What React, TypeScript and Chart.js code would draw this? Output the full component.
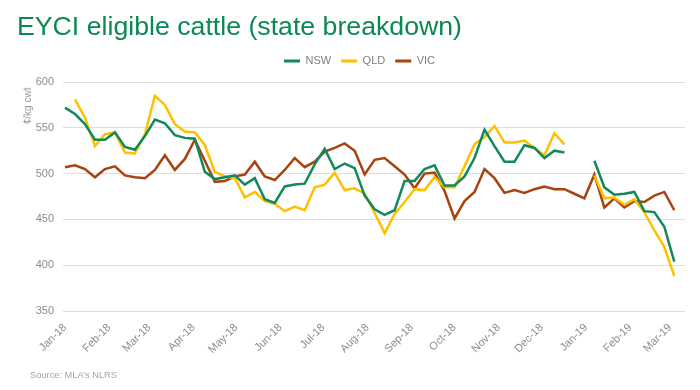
import React, { useEffect, useRef } from 'react';
import { Chart, registerables } from 'chart.js';

Chart.register(...registerables);

const TITLE = 'EYCI eligible cattle (state breakdown)';
const SOURCE = 'Source: MLA’s NLRS';
const Y_TITLE = '¢/kg cwt  ';
const LEGEND_NAMES = ['NSW', 'QLD', 'VIC'];

// weekly observations, first week starting 1 Jan 2018
const FIRST_WEEK = Date.UTC(2018, 0, 1);
const MONTH_TICKS = [
  'Jan-18', 'Feb-18', 'Mar-18', 'Apr-18', 'May-18', 'Jun-18', 'Jul-18', 'Aug-18',
  'Sep-18', 'Oct-18', 'Nov-18', 'Dec-18', 'Jan-19', 'Feb-19', 'Mar-19',
];

const NSW: (number | null)[] = [
  572, 565, 554, 537, 537, 545, 529, 526, 541, 559, 555, 542, 539, 538, 502, 494,
  496, 498, 488, 495, 472, 468, 486, 488, 489, 510, 527, 505, 511, 506, 476, 461,
  455, 460, 492, 492, 505, 509, 487, 487, 497, 517, 548, 530, 513, 513, 531, 528,
  517, 525, 523, null, null, 514, 485, 477, 478, 480, 459, 458, 442, 404,
];
const QLD: (number | null)[] = [
  null, 581, 561, 530, 543, 545, 523, 522, 543, 585, 575, 554, 546, 545, 531, 502,
  497, 495, 474, 480, 470, 467, 459, 464, 460, 485, 488, 501, 482, 484, 478, 457,
  435, 456, 469, 483, 482, 496, 485, 485, 508, 532, 540, 552, 534, 534, 536, 528,
  520, 544, 532, null, null, 498, 473, 474, 466, 472, 458, 438, 420, 388,
];
const VIC: (number | null)[] = [
  507, 509, 505, 496, 505, 508, 498, 496, 495, 504, 520, 504, 516, 537, 514, 491,
  492, 497, 499, 513, 497, 493, 504, 517, 507, 513, 524, 528, 533, 525, 499, 515,
  517, 508, 499, 484, 500, 501, 481, 451, 470, 480, 505, 495, 479, 482, 479, 483,
  486, 483, 483, 478, 473, 499, 463, 473, 463, 470, 469, 476, 480, 460,
];

const COLORS = ['#12895A', '#FFC000', '#A8420F'];
const TITLE_GREEN = '#0A8A52';
const FONT = "'Liberation Sans', Arial, Helvetica, sans-serif";

const MONTHS = ['Jan', 'Feb', 'Mar', 'Apr', 'May', 'Jun', 'Jul', 'Aug', 'Sep', 'Oct', 'Nov', 'Dec'];
const DAY = 86400000;
const tickDay = (label: string) => {
  const [m, y] = label.split('-');
  return (Date.UTC(2000 + Number(y), MONTHS.indexOf(m), 1) - FIRST_WEEK) / DAY;
};
const TICK_DAYS = MONTH_TICKS.map(tickDay);
const toPoints = (arr: (number | null)[]) => arr.map((v, i) => ({ x: i * 7, y: v }));

export default function App() {
  const ref = useRef<HTMLCanvasElement>(null);
  useEffect(() => {
    Chart.defaults.font.family = FONT;
    const series = [NSW, QLD, VIC];
    const chart = new Chart(ref.current as HTMLCanvasElement, {
      type: 'line',
      data: {
        datasets: series.map((s, k) => ({
          label: LEGEND_NAMES[k],
          data: toPoints(s) as any,
          borderColor: COLORS[k],
          backgroundColor: COLORS[k],
          borderWidth: 2.5,
          pointRadius: 0,
          tension: 0,
          spanGaps: false,
        })),
      },
      options: {
        animation: false,
        responsive: false,
        devicePixelRatio: 1,
        layout: { padding: { top: 45.5, left: 0, right: 15, bottom: 0 } },
        plugins: {
          tooltip: { enabled: false },
          legend: {
            position: 'top',
            labels: {
              boxWidth: 16,
              boxHeight: 3,
              padding: 10,
              color: '#7f7f7f',
              font: { size: 11, family: FONT },
              generateLabels: (c: any) =>
                Chart.defaults.plugins.legend.labels
                  .generateLabels(c)
                  .map((l: any) => ({ ...l, lineWidth: 0 })),
            },
          },
        },
        scales: {
          x: {
            type: 'linear',
            min: -1.4,
            max: 434.5,
            grid: { display: false, drawTicks: false },
            border: { display: false },
            afterBuildTicks: (s: any) => {
              s.ticks = TICK_DAYS.map((v) => ({ value: v }));
            },
            afterFit: (s: any) => {
              s.height = 79;
            },
            ticks: {
              autoSkip: false,
              minRotation: 45,
              maxRotation: 45,
              padding: 10,
              color: '#8c8c8c',
              font: { size: 11, family: FONT },
              callback: (_v: any, i: number) => MONTH_TICKS[i],
            },
          },
          y: {
            min: 350,
            max: 600,
            grid: { color: '#dedede', lineWidth: 1, drawTicks: false },
            border: { display: false },
            afterFit: (s: any) => {
              s.width = 63;
            },
            ticks: {
              stepSize: 50,
              padding: 9,
              color: '#8c8c8c',
              font: { size: 11, family: FONT },
            },
            title: {
              display: true,
              text: Y_TITLE,
              align: 'end',
              color: '#9a9a9a',
              font: { size: 10, family: FONT },
              padding: { top: 22, bottom: 0 },
            },
          },
        },
      },
      plugins: [
        {
          id: 'legendTweak',
          afterInit(c: any) {
            const lg = c.legend;
            if (lg) {
              const orig = lg.fit;
              lg.fit = function () {
                orig.call(this);
                this.height += 5.5;
              };
            }
          },
          afterLayout(c: any) {
            const lg = c.legend;
            if (lg) {
              lg.left += 17;
              lg.right += 17;
            }
          },
        },
      ],
    } as any);
    return () => chart.destroy();
  }, []);

  return (
    <div
      style={{
        position: 'fixed',
        left: 0,
        top: 0,
        width: 700,
        height: 390,
        background: '#fff',
        overflow: 'hidden',
        fontFamily: FONT,
      }}
    >
      <canvas
        ref={ref}
        width={700}
        height={390}
        style={{ position: 'absolute', left: 0, top: 0, width: 700, height: 390 }}
      />
      <div
        style={{
          position: 'absolute',
          left: 17,
          top: 11,
          fontSize: 26.7,
          color: TITLE_GREEN,
          whiteSpace: 'nowrap',
        }}
      >
        {TITLE}
      </div>
      <div
        style={{
          position: 'absolute',
          left: 30,
          top: 370,
          fontSize: 9.3,
          color: '#a6a6a6',
          whiteSpace: 'nowrap',
        }}
      >
        {SOURCE}
      </div>
    </div>
  );
}
